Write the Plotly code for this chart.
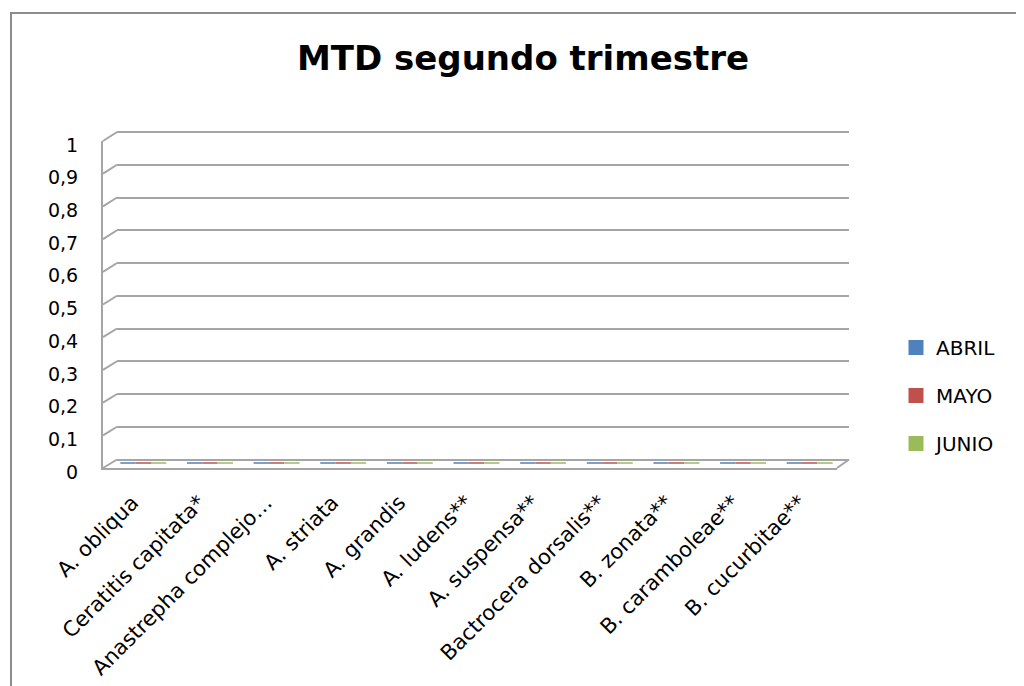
import plotly.graph_objects as go

# page body has an 8px margin: the figure is placed at (8, 8) in the window
OX, OY = 8, 8
W, H = 1016, 678

# ---------------- data ----------------
categories = ["A. obliqua", "Ceratitis capitata*", "Anastrepha complejo…", "A. striata",
              "A. grandis", "A. ludens**", "A. suspensa**", "Bactrocera dorsalis**",
              "B. zonata**", "B. caramboleae**", "B. cucurbitae**"]
series_names = ["ABRIL", "MAYO", "JUNIO"]
abril = [0, 0, 0, 0, 0, 0, 0, 0, 0, 0, 0]
mayo = [0, 0, 0, 0, 0, 0, 0, 0, 0, 0, 0]
junio = [0, 0, 0, 0, 0, 0, 0, 0, 0, 0, 0]
series_values = [abril, mayo, junio]
series_colors = ["#4F81BD", "#C0504D", "#9BBB59"]
y_tickvals = [0, 0.1, 0.2, 0.3, 0.4, 0.5, 0.6, 0.7, 0.8, 0.9, 1]
y_ticktext = ["0", "0,1", "0,2", "0,3", "0,4", "0,5", "0,6", "0,7", "0,8", "0,9", "1"]
title_text = "MTD segundo trimestre"

# ---------------- geometry (window pixels) of the pseudo-3D box ----------------
BACK = dict(x0=117, x1=849, y0=459.5, y1=132)     # back wall
MID = dict(x0=110, x1=843, y0=463.7, y1=136.4)    # where the columns stand
FRONT = dict(x0=103, x1=837, y0=468, y1=141)      # front edge (labels)
GRID = "#A5A5A5"
FONT = "DejaVu Sans"


def px(x):
    return (x - OX) / W


def py(y):
    return 1 - (y - OY) / H


def xdom(g):
    return [px(g["x0"]), px(g["x1"])]


def ypix(g, v):
    return g["y0"] + v * (g["y1"] - g["y0"])


def ydom(g, lo, hi):
    return [py(ypix(g, lo)), py(ypix(g, hi))]


fig = go.Figure()

# back wall subplot (grid lines)
fig.add_trace(go.Scatter(x=categories, y=abril, mode="markers", marker=dict(opacity=0),
                         showlegend=False, hoverinfo="skip", xaxis="x", yaxis="y"))
# columns (zero height) at mid depth
for name, vals, col in zip(series_names, series_values, series_colors):
    fig.add_trace(go.Bar(x=categories, y=vals, name=name, legendgroup=name,
                         marker=dict(color=col, line=dict(color=col, width=3)),
                         xaxis="x2", yaxis="y2"))
# front subplot (tick labels)
fig.add_trace(go.Scatter(x=categories, y=abril, mode="markers", marker=dict(opacity=0),
                         showlegend=False, hoverinfo="skip", xaxis="x3", yaxis="y3"))

eps = 0.004
fig.update_layout(
    width=W, height=H, autosize=False,
    margin=dict(l=0, r=0, t=0, b=0, pad=0),
    paper_bgcolor="white", plot_bgcolor="rgba(0,0,0,0)",
    separators=", ",
    barmode="group", bargap=0.31, bargroupgap=0,
    font=dict(family=FONT, color="black", size=19),
    title=dict(text=title_text, x=px(523), xanchor="center", xref="paper",
               y=py(58), yanchor="middle", yref="paper", automargin=False,
               font=dict(family=FONT, size=34, weight="bold", color="black")),
    legend=dict(x=px(896), xanchor="left", y=py(328), yanchor="top",
                font=dict(family=FONT, size=20, color="black"),
                tracegroupgap=19, bgcolor="rgba(0,0,0,0)", itemclick=False),
    xaxis=dict(domain=xdom(BACK), anchor="y", type="category", categoryarray=categories,
               range=[-0.5, 10.5], visible=False, automargin=False),
    yaxis=dict(domain=ydom(BACK, -eps, 1 + eps), anchor="x", range=[-eps, 1 + eps],
               tickvals=y_tickvals, showticklabels=False, showgrid=True, automargin=False,
               gridcolor=GRID, gridwidth=2, zeroline=False, showline=False),
    xaxis2=dict(domain=xdom(MID), anchor="y2", type="category", categoryarray=categories,
                range=[-0.5, 10.5], visible=False, automargin=False),
    yaxis2=dict(domain=ydom(MID, 0, 1), anchor="x2", range=[0, 1], visible=False,
                automargin=False),
    xaxis3=dict(domain=xdom(FRONT), anchor="y3", type="category", categoryarray=categories,
                range=[-0.5, 10.5], showgrid=False, zeroline=False, showline=True,
                linecolor=GRID, linewidth=2, tickangle=-45, ticks="", automargin=False,
                ticklabelstandoff=12, ticklabelshift=-4,
                tickfont=dict(family=FONT, size=21, color="black")),
    yaxis3=dict(domain=ydom(FRONT, 0, 1), anchor="x3", range=[0, 1], automargin=False,
                tickvals=y_tickvals, ticktext=y_ticktext, showgrid=False, zeroline=False,
                showline=True, linecolor=GRID, linewidth=2, ticks="",
                ticklabelstandoff=19, ticklabelshift=4,
                tickfont=dict(family=FONT, size=19, color="black")),
)

shapes = []
# perspective edges at the left side for every grid value
for v in y_tickvals:
    shapes.append(dict(type="line", xref="paper", yref="paper",
                       x0=px(FRONT["x0"]), y0=py(ypix(FRONT, v)),
                       x1=px(BACK["x0"]), y1=py(ypix(BACK, v)),
                       line=dict(color=GRID, width=2)))
# right edge of the floor
shapes.append(dict(type="line", xref="paper", yref="paper",
                   x0=px(FRONT["x1"]), y0=py(ypix(FRONT, 0)),
                   x1=px(BACK["x1"]), y1=py(ypix(BACK, 0)),
                   line=dict(color=GRID, width=2)))
# chart area frame
shapes.append(dict(type="rect", xref="paper", yref="paper",
                   x0=px(11), y0=py(700), x1=px(1023), y1=py(13),
                   line=dict(color="#8C8C8C", width=2), fillcolor="rgba(0,0,0,0)"))
fig.update_layout(shapes=shapes)

fig.write_html("out.html")
